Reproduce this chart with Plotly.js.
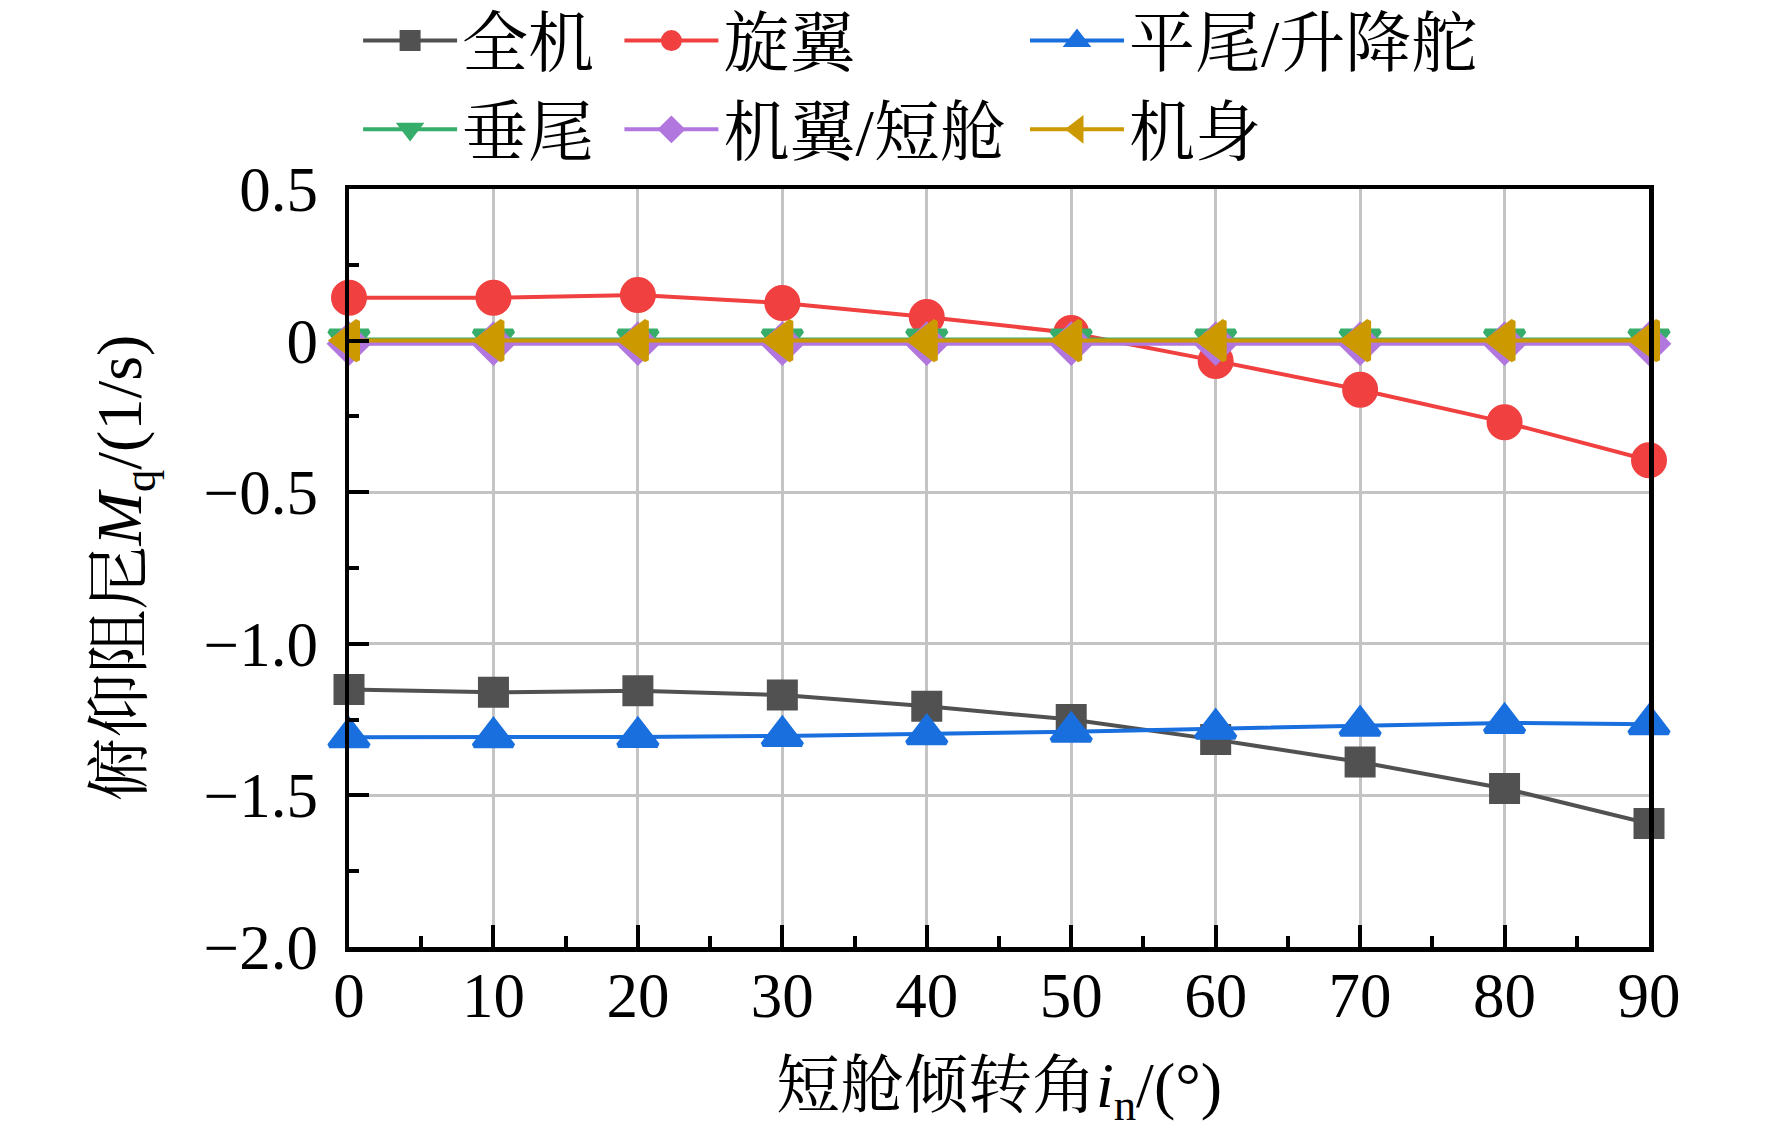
<!DOCTYPE html>
<html>
<head>
<meta charset="utf-8">
<script src="https://cdn.plot.ly/plotly-3.0.1.min.js"></script>
<style>html,body{margin:0;padding:0;background:#fff;}#chart{width:1772px;height:1139px;}</style>
</head>
<body>
<div id="chart"></div>
<script>
// 短舱倾转角 (°)
const angles = [0, 10, 20, 30, 40, 50, 60, 70, 80, 90];
// 俯仰阻尼 Mq (1/s)
const quanji   = [-1.151, -1.160, -1.155, -1.169, -1.206, -1.250, -1.316, -1.390, -1.477, -1.593];
const xuanyi   = [0.141, 0.141, 0.150, 0.124, 0.078, 0.025, -0.067, -0.162, -0.269, -0.395];
const pingwei  = [-1.308, -1.308, -1.307, -1.304, -1.298, -1.290, -1.280, -1.270, -1.261, -1.265];
const chuiwei  = [0.004, 0.004, 0.004, 0.004, 0.004, 0.004, 0.004, 0.004, 0.004, 0.004];
const jiyi     = [-0.010, -0.010, -0.010, -0.010, -0.010, -0.010, -0.010, -0.010, -0.010, -0.010];
const jishen   = [0.000, 0.000, 0.000, 0.000, 0.000, 0.000, 0.000, 0.000, 0.000, 0.000];

const names = ['全机', '旋翼', '平尾/升降舵', '垂尾', '机翼/短舱', '机身'];
const colors = ['#515151', '#F14040', '#1A6FDF', '#37AD6B', '#B177DE', '#CC9900'];

const yTickVals = [0.5, 0, -0.5, -1.0, -1.5, -2.0];
const yTickText = ['0.5', '0', '−0.5', '−1.0', '−1.5', '−2.0'];
const xTickVals = [0, 10, 20, 30, 40, 50, 60, 70, 80, 90];

const FONT = '"Liberation Serif", "Times New Roman", "Noto Serif CJK SC", "Noto Sans CJK SC", serif';

function mk(y, i, symbol, size, legendId) {
  return {
    x: angles, y: y, name: names[i], type: 'scatter', mode: 'lines+markers',
    line: {color: colors[i], width: 4},
    marker: {symbol: symbol, size: size, color: colors[i], line: {width: 5, color: colors[i]}},
    cliponaxis: false,
    legend: legendId,
    legendgroup: 'g' + i
  };
}

const traces = [
  mk(quanji, 0, 'square', 26, 'legend'),
  mk(xuanyi, 1, 'circle', 31, 'legend2'),
  mk(pingwei, 2, 'triangle-up', 34, 'legend3'),
  mk(chuiwei, 3, 'triangle-down', 34, 'legend'),
  mk(jiyi, 4, 'diamond', 29, 'legend2'),
  mk(jishen, 5, 'triangle-left', 34, 'legend3')
];

const legendBase = {
  orientation: 'v', xanchor: 'left', yanchor: 'top', y: 1.261,
  bgcolor: 'rgba(0,0,0,0)', borderwidth: 0,
  font: {family: FONT, size: 66, color: '#000'},
  itemwidth: 94, tracegroupgap: 0, itemclick: false, itemdoubleclick: false
};

const layout = {
  width: 1772, height: 1139,
  paper_bgcolor: '#fff', plot_bgcolor: '#fff',
  margin: {l: 349, r: 123, t: 189, b: 192, autoexpand: false},
  font: {family: FONT, size: 62, color: '#000'},
  showlegend: true,
  legend: Object.assign({}, legendBase, {x: 0.007}),
  legend2: Object.assign({}, legendBase, {x: 0.208}),
  legend3: Object.assign({}, legendBase, {x: 0.52}),
  xaxis: {
    range: [0, 90], tickvals: xTickVals, ticks: 'inside', ticklen: 22, tickwidth: 4, tickcolor: '#000',
    showline: true, linecolor: '#000', linewidth: 4.5, mirror: true,
    showgrid: true, gridcolor: '#c4c4c4', gridwidth: 3, zeroline: false,
    tickfont: {family: FONT, size: 63, color: '#000'}, ticklabelstandoff: -10,
    minor: {dtick: 5, ticks: 'inside', ticklen: 11, tickwidth: 4, tickcolor: '#000', showgrid: false},
    title: {text: '短舱倾转角<i>i</i><sub>n</sub>/(°)', font: {family: FONT, size: 64, color: '#000'}, standoff: 33},
    automargin: false
  },
  yaxis: {
    range: [-2.0, 0.5], tickvals: yTickVals, ticktext: yTickText, ticks: 'inside', ticklen: 20, tickwidth: 4, tickcolor: '#000',
    showline: true, linecolor: '#000', linewidth: 4.5, mirror: true,
    showgrid: true, gridcolor: '#c4c4c4', gridwidth: 3, zeroline: false,
    tickfont: {family: FONT, size: 63, color: '#000'}, ticklabelstandoff: 14,
    minor: {dtick: 0.25, ticks: 'inside', ticklen: 10, tickwidth: 4, tickcolor: '#000', showgrid: false},
    title: {text: '俯仰阻尼<i>M</i><sub>q</sub>/(1/s)', font: {family: FONT, size: 64, color: '#000'}, standoff: 42},
    automargin: false
  }
};

Plotly.newPlot('chart', traces, layout, {displayModeBar: false, staticPlot: true});
</script>
</body>
</html>
